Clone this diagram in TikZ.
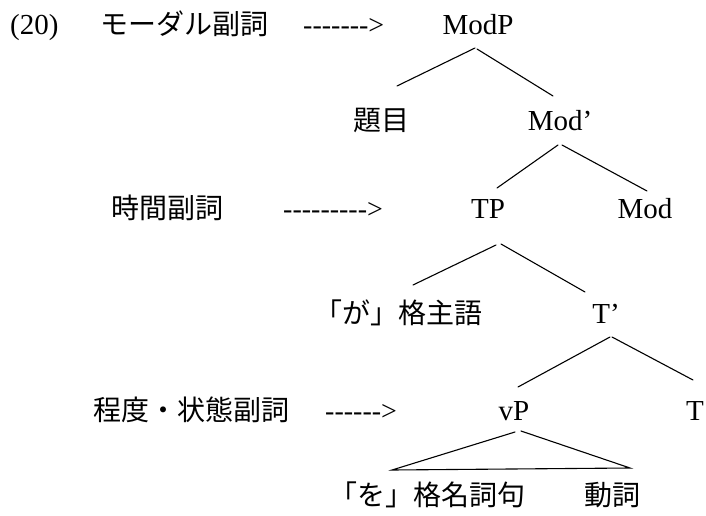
\documentclass[tikz,border=0pt]{standalone}
\usepackage{fontspec}
\setmainfont{Liberation Serif}
\newfontfamily\dashfont{Liberation Serif}
\newfontfamily\jp{Noto Sans CJK JP}
\begin{document}
\begin{tikzpicture}[x=1pt,y=-1pt,
  lbl/.style={inner sep=0pt,font=\fontsize{29}{33}\selectfont},
  dlbl/.style={inner sep=0pt,anchor=base west,font=\fontsize{28}{32}\selectfont\dashfont},
  jlbl/.style={inner sep=0pt,font=\fontsize{28}{32}\selectfont\jp},
  branch/.style={line width=1.1pt,line cap=round}]
\useasboundingbox (0,0) rectangle (706,516);
% left column
\node[lbl,anchor=base west] (ex) at (10,35) {(20)};
\node[jlbl,anchor=base west] (modadv) at (100,35) {モーダル副詞};
\node[dlbl] (arr1) at (303,35) {------->};
\node[jlbl,anchor=base west] (timeadv) at (111,218) {時間副詞};
\node[dlbl] (arr2) at (283,218) {--------->};
\node[jlbl,anchor=base west] (degadv) at (93,420) {程度・状態副詞};
\node[dlbl] (arr3) at (325,420) {------>};
% tree nodes
\node[lbl,anchor=base] (ModP) at (478,35) {ModP};
\node[jlbl,anchor=base] (topic) at (381,130) {題目};
\node[lbl,anchor=base] (Modbar) at (560,130) {Mod’};
\node[lbl,anchor=base] (TP) at (488,218) {TP};
\node[lbl,anchor=base] (Mod) at (645,218) {Mod};
\node[jlbl,anchor=base] (subj) at (398,323) {「が」格主語};
\node[lbl,anchor=base] (Tbar) at (606,323) {T’};
\node[lbl,anchor=base] (vP) at (514,420) {vP};
\node[lbl,anchor=base] (T) at (695,420) {T};
\node[jlbl,anchor=base] (obj) at (427,505) {「を」格名詞句};
\node[jlbl,anchor=base] (verb) at (612,505) {動詞};
% branch end points
\coordinate (ModP-l) at (475,48);  \coordinate (topic-t) at (397,86);
\coordinate (ModP-r) at (477,49);  \coordinate (Modbar-t) at (553,96);
\coordinate (Modbar-l) at (558,145); \coordinate (TP-t) at (497,188);
\coordinate (Modbar-r) at (562,145); \coordinate (Mod-t) at (647,191);
\coordinate (TP-l) at (496,245);   \coordinate (subj-t) at (413,285);
\coordinate (TP-r) at (501,244);   \coordinate (Tbar-t) at (585,292);
\coordinate (Tbar-l) at (610,337); \coordinate (vP-t) at (518,387);
\coordinate (Tbar-r) at (612,337); \coordinate (T-t) at (693,380);
\coordinate (vP-l) at (515,432);   \coordinate (tri-l) at (392,470);
\coordinate (vP-r) at (521,431);   \coordinate (tri-r) at (630,468);
% branches
\draw[branch] (ModP-l) -- (topic-t);
\draw[branch] (ModP-r) -- (Modbar-t);
\draw[branch] (Modbar-l) -- (TP-t);
\draw[branch] (Modbar-r) -- (Mod-t);
\draw[branch] (TP-l) -- (subj-t);
\draw[branch] (TP-r) -- (Tbar-t);
\draw[branch] (Tbar-l) -- (vP-t);
\draw[branch] (Tbar-r) -- (T-t);
\draw[branch] (vP-l) -- (tri-l) -- (tri-r) -- (vP-r);
\end{tikzpicture}
\end{document}
